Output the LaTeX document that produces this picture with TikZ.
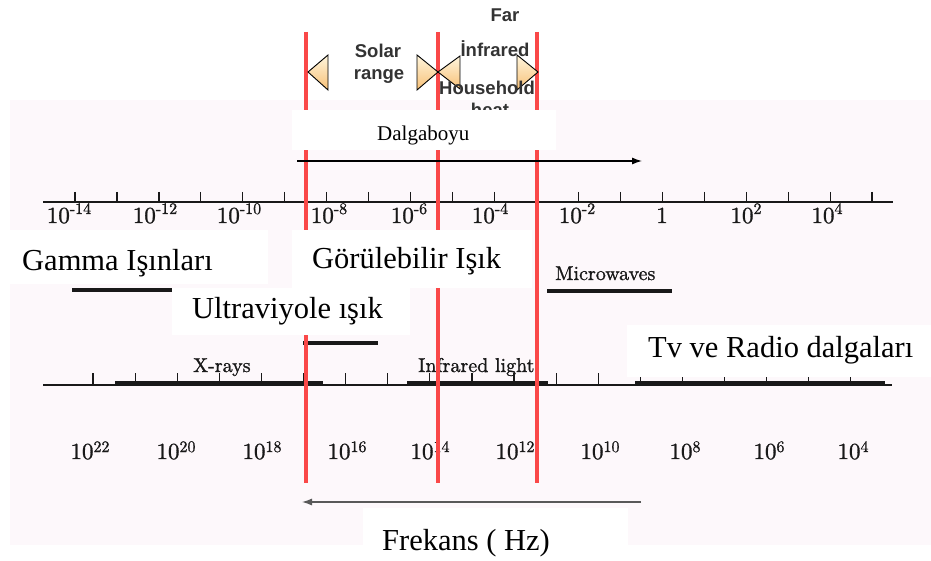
\documentclass[tikz,border=0pt]{standalone}
\usepackage{fontspec}
\newfontfamily\timesfont{Liberation Serif}
\newfontfamily\arialfont{Liberation Sans}
\newfontfamily\scanfont{lmroman10-regular.otf}[FakeBold=1.2]
\usetikzlibrary{arrows.meta}
\definecolor{scanbg}{RGB}{253,248,251}
\definecolor{redline}{RGB}{250,72,72}
\definecolor{ink}{RGB}{25,25,25}
\definecolor{triA}{RGB}{255,246,222}
\definecolor{triB}{RGB}{247,192,118}
% power of ten with a raised exponent
\newcommand\pw[3][9]{#2\raisebox{#1pt}{\fontsize{16}{16}\selectfont #3}}
\tikzset{
  bigl/.style={font=\timesfont\fontsize{30.5}{32}\selectfont, inner sep=0pt, anchor=base west},
  smalll/.style={font=\timesfont\fontsize{21}{23}\selectfont, inner sep=0pt, anchor=base west},
  scantxt/.style={font=\scanfont\fontsize{20}{22}\selectfont, text=ink, inner sep=0pt, anchor=base west},
  numl/.style={font=\scanfont\fontsize{23}{25}\selectfont, text=ink, inner sep=0pt, anchor=base},
  sanslbl/.style={font=\arialfont\bfseries\fontsize{18.5}{20}\selectfont, text=black!80, inner sep=0pt, anchor=base},
  whitebox/.style={fill=white, draw=none},
  tri/.style={draw=black, line width=0.9pt, top color=triA, bottom color=triB, line join=miter},
  redbar/.style={draw=redline, line width=4pt},
  scanline/.style={draw=ink, line width=1.5pt},
  band/.style={draw=ink, line width=3.5pt},
  axarrow/.style={line width=1.2pt, -{Latex[length=10pt,width=7pt]}},
}
\begin{document}
\begin{tikzpicture}[x=1pt,y=-1pt]
\useasboundingbox (0,0) rectangle (931,561);
\fill[white] (0,0) rectangle (931,561);
% scanned chart area
\fill[scanbg] (10,100) rectangle (931,545);

% wavelength axis
\draw[scanline] (43,202) -- (893,202);
\foreach \k in {0,...,19} \draw[ink, line width=1.2pt] ({75+41.95*\k},192) -- ({75+41.95*\k},202);
\foreach \x/\e [count=\i] in {69/-14,155/-12,239/-10,329/-8,409/-6,490/-4,577/-2}
  \node[numl] (wl\i) at (\x,223) {\pw{10}{\e}};
\node[numl] (wl8) at (662,223) {1};
\node[numl] (wl9) at (746,223) {\pw{10}{2}};
\node[numl] (wl10) at (827,223) {\pw{10}{4}};

% band names and bars of the upper chart
\draw[band] (72,290) -- (175,290);
\draw[band] (303,343) -- (378,343);
\node[scantxt] (micro) at (555,280) {Microwaves};
\draw[band] (547,291) -- (672,291);

% frequency axis
\draw[scanline] (43,385) -- (892,385);
\foreach \k in {0,...,18} \draw[ink, line width=1.2pt] ({93+42.1*\k},373) -- ({93+42.1*\k},385);
\draw[band] (115,383) -- (323,383);
\draw[band] (407,383) -- (548,383);
\draw[band] (635,383) -- (885,383);
\node[scantxt] (xray) at (193,372) {X-rays};
\node[scantxt] (irl) at (418,372) {Infrared light};
\foreach \x/\e [count=\i] in {90/22,176/20,262/18,347/16,430/14,515/12,600/10,685/8,769/6,853/4}
  \node[numl] (fq\i) at (\x,459) {\pw[7]{10}{\e}};

% region limits
\foreach \x [count=\i] in {306,438,537}
  \draw[redbar] (\x,32) -- (\x,483);

% range markers
\draw[tri] (308,72) -- (328,55) -- (328,90) -- cycle;
\draw[tri] (438,72) -- (417,55) -- (417,90) -- cycle;
\draw[tri] (438,72) -- (460,56) -- (460,89) -- cycle;
\draw[tri] (538,72) -- (517,55) -- (517,90) -- cycle;
\node[sanslbl] (solar) at (378,58) {Solar};
\node[sanslbl] (range) at (379,80) {range};
\node[sanslbl] (far) at (505,22) {Far};
\node[sanslbl] (infr) at (495,57) {İnfrared};
\node[sanslbl] (house) at (487,95) {Household};
\node[sanslbl] (heat) at (490,117) {heat};

% label boxes
\fill[whitebox] (292,110) rectangle (556,150);
\node[smalll] (dalga) at (377,141) {Dalgaboyu};
\fill[whitebox] (0,230) rectangle (268,284);
\node[bigl] (gamma) at (22,270) {Gamma Işınları};
\fill[whitebox] (292,230) rectangle (532,288);
\node[bigl] (gorul) at (312,269) {Görülebilir Işık};
\fill[whitebox] (172,288) rectangle (410,335);
\node[bigl] (uv) at (192,318) {Ultraviyole ışık};
\fill[whitebox] (627,325) rectangle (931,377);
\node[bigl] (tv) at (648,357) {Tv ve Radio dalgaları};
\fill[whitebox] (363,508) rectangle (628,561);
\node[bigl] (frek) at (382,550) {Frekans ( Hz)};

% direction arrows
\coordinate (wa) at (297,161);
\coordinate (wb) at (642,161);
\draw[axarrow, black] (wa) -- (wb);
\coordinate (fa) at (641,502);
\coordinate (fb) at (302,502);
\draw[axarrow, black!65] (fa) -- (fb);
\end{tikzpicture}
\end{document}
